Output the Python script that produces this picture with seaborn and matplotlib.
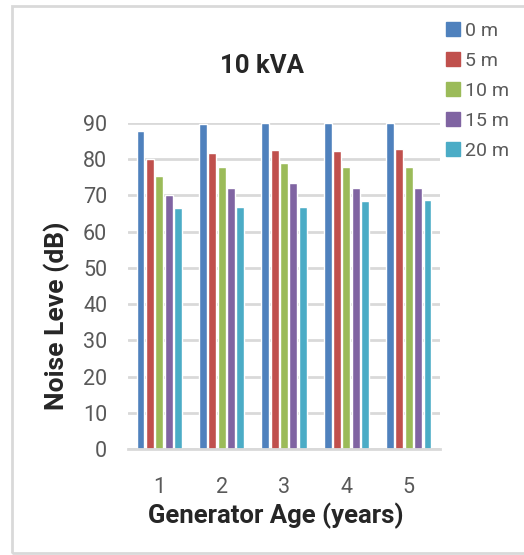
import pandas as pd
import matplotlib.pyplot as plt
from matplotlib.patches import Rectangle
import seaborn as sns

# Noise level readings (dB) by generator age, one list per distance
ages = ['1', '2', '3', '4', '5']
distances = ['0 m', '5 m', '10 m', '15 m', '20 m']
d0 = [87.8, 89.8, 90.0, 90.0, 90.0]
d5 = [80.1, 81.8, 82.6, 82.3, 82.9]
d10 = [75.4, 77.9, 79.0, 77.9, 77.9]
d15 = [70.2, 72.1, 73.5, 72.1, 72.1]
d20 = [66.6, 66.9, 66.9, 68.5, 68.8]

colors = ['#4F81BD', '#C0504D', '#9BBB59', '#8064A2', '#4BACC6']

rows = []
for dist, vals in zip(distances, [d0, d5, d10, d15, d20]):
    for age, v in zip(ages, vals):
        rows.append({'Age': age, 'Distance': dist, 'Noise': v})
data = pd.DataFrame(rows)

sns.set_style('white')
plt.rcParams['font.family'] = ['Roboto', 'DejaVu Sans']
bold_font = ['Roboto', 'Liberation Sans', 'DejaVu Sans']
grey = '#595959'
grid = '#d9d9d9'

fig = plt.figure(figsize=(5.24, 5.55), dpi=100)
ax = fig.add_axes([128 / 524, 106 / 555, 312 / 524, 326 / 555])

sns.barplot(data=data, x='Age', y='Noise', hue='Distance', order=ages,
            hue_order=distances, palette=colors, width=0.75, gap=0.15,
            saturation=1, ax=ax, legend=True)

ax.set_ylim(0, 90)
ax.set_xlim(-0.5, 4.5)
ax.set_yticks(range(0, 91, 10))
ax.yaxis.grid(True, color=grid, linewidth=2)
ax.set_axisbelow(True)
for s in ['top', 'right', 'left']:
    ax.spines[s].set_visible(False)
ax.spines['bottom'].set_color(grid)
ax.spines['bottom'].set_linewidth(2)
ax.tick_params(axis='y', colors=grey, labelsize=15.5, length=3, width=1,
               color=grid, pad=12)
ax.tick_params(axis='x', colors=grey, labelsize=15.5, length=0, pad=20)
ax.set_xlabel('')
ax.set_ylabel('')

ax.get_legend().remove()
handles = [Rectangle((0, 0), 1, 1, color=c) for c in colors]
leg = fig.legend(handles, distances, loc='upper left',
                 bbox_to_anchor=(432 / 524, 1 - 8 / 555), frameon=False,
                 fontsize=14, handlelength=0.75, handleheight=0.75,
                 handletextpad=0.25, labelspacing=0.62, borderpad=0.2)
for t in leg.get_texts():
    t.set_color(grey)

fig.text(0.5, 1 - 66 / 555, '10 kVA', ha='center', va='center',
         fontsize=18.5, fontweight='bold', family=bold_font)
fig.text(276 / 524, 1 - 516 / 555, 'Generator Age (years)', ha='center',
         va='center', fontsize=18.5, fontweight='bold', family=bold_font)
fig.text(57 / 524, 1 - 316 / 555, 'Noise Leve (dB)', ha='center',
         va='center', rotation=90, fontsize=19, fontweight='bold',
         family=bold_font)

# chart frame
fig.patches.append(Rectangle((12 / 524, 2 / 555), 1.0, 1 - 8 / 555,
                             transform=fig.transFigure, fill=False,
                             edgecolor=grid, linewidth=2))

fig.savefig('out.png', dpi=100)
